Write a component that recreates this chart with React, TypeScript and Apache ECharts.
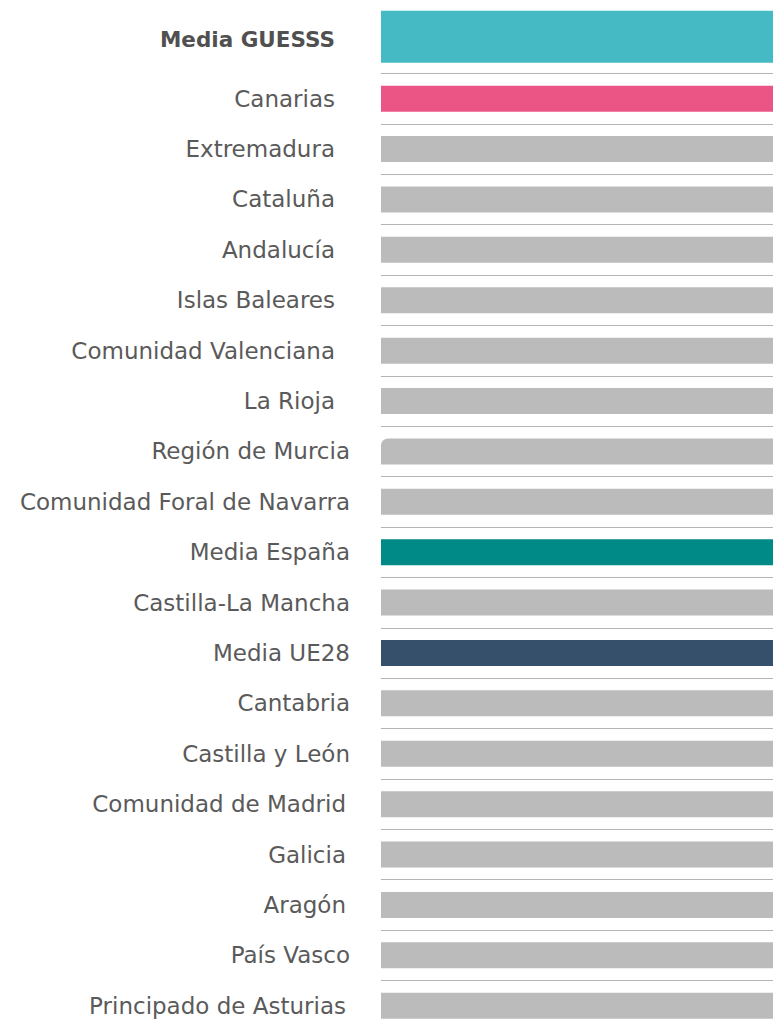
import React, { useEffect, useRef } from "react";
import * as echarts from "echarts";

const topCategory = ["Media GUESSS"];
const topValues = [100];

const categories = [
  "Canarias",
  "Extremadura",
  "Cataluña",
  "Andalucía",
  "Islas Baleares",
  "Comunidad Valenciana",
  "La Rioja",
  "Región de Murcia",
  "Comunidad Foral de Navarra",
  "Media España",
  "Castilla-La Mancha",
  "Media UE28",
  "Cantabria",
  "Castilla y León",
  "Comunidad de Madrid",
  "Galicia",
  "Aragón",
  "País Vasco",
  "Principado de Asturias",
];
const values = [100, 100, 100, 100, 100, 100, 100, 100, 100, 100, 100, 100, 100, 100, 100, 100, 100, 100, 100];

const GREY = "#bbbbbb";
const specialColors: Record<string, string> = {
  "Media GUESSS": "#46bac4",
  Canarias: "#ea5585",
  "Media España": "#008a87",
  "Media UE28": "#36506b",
};
const padA = ["Media GUESSS", "Canarias", "Extremadura", "Cataluña", "Andalucía", "Islas Baleares", "Comunidad Valenciana", "La Rioja"];
const padC = ["Comunidad de Madrid", "Galicia", "Aragón", "Principado de Asturias"];

const FONT = "DejaVu Sans";
const FS = 23;

function labelFmt(v: string) {
  const key = padA.includes(v) ? "a" : padC.includes(v) ? "c" : "b";
  return `{${key}|${v}}`;
}

const rich = {
  a: { padding: [0, 15, 0, 0], fontFamily: FONT, fontSize: FS, color: "#5a5a5a" },
  b: { padding: [0, 0, 0, 0], fontFamily: FONT, fontSize: FS, color: "#5a5a5a" },
  c: { padding: [0, 4, 0, 0], fontFamily: FONT, fontSize: FS, color: "#5a5a5a" },
};

export default function App() {
  const ref = useRef<HTMLDivElement>(null);
  useEffect(() => {
    document.body.style.margin = "0";
    const chart = echarts.init(ref.current!, null, { renderer: "svg" });
    chart.setOption({
      animation: false,
      grid: [
        { left: 381, right: 0, top: 0, height: 73.5 },
        { left: 381, right: 0, top: 73.5, height: 957.4 },
      ],
      xAxis: [
        { gridIndex: 0, type: "value", min: 0, max: 100, show: false },
        { gridIndex: 1, type: "value", min: 0, max: 100, show: false },
      ],
      yAxis: [
        {
          gridIndex: 0,
          type: "category",
          inverse: true,
          data: topCategory,
          axisLine: { show: false },
          axisTick: { show: false },
          splitLine: { show: false },
          axisLabel: {
            margin: 31,
            formatter: labelFmt,
            rich: {
              a: { padding: [6, 15, 0, 0], fontFamily: FONT, fontSize: 21.5, fontWeight: "bold", color: "#505050" },
            },
          },
        },
        {
          gridIndex: 1,
          type: "category",
          inverse: true,
          data: categories,
          axisLine: { show: false },
          axisTick: { show: false },
          splitLine: { show: true, lineStyle: { color: "#b4b4b4", width: 1.2 } },
          axisLabel: { margin: 31, formatter: labelFmt, rich },
        },
      ],
      series: [
        {
          type: "bar",
          xAxisIndex: 0,
          yAxisIndex: 0,
          barWidth: 52,
          data: topValues.map((v, i) => ({
            value: v,
            itemStyle: { color: specialColors[topCategory[i]] || GREY },
          })),
        },
        {
          type: "bar",
          xAxisIndex: 1,
          yAxisIndex: 1,
          barWidth: 26,
          data: values.map((v, i) => ({
            value: v,
            itemStyle: {
              color: specialColors[categories[i]] || GREY,
              borderRadius: categories[i] === "Región de Murcia" ? [7, 0, 0, 0] : 0,
            },
          })),
        },
      ],
    });
    return () => chart.dispose();
  }, []);
  return (
    <div style={{ position: "fixed", left: 0, top: 0, width: 773, height: 1021, overflow: "hidden", background: "#fff" }}>
      <div ref={ref} style={{ width: 773, height: 1040 }} />
    </div>
  );
}
